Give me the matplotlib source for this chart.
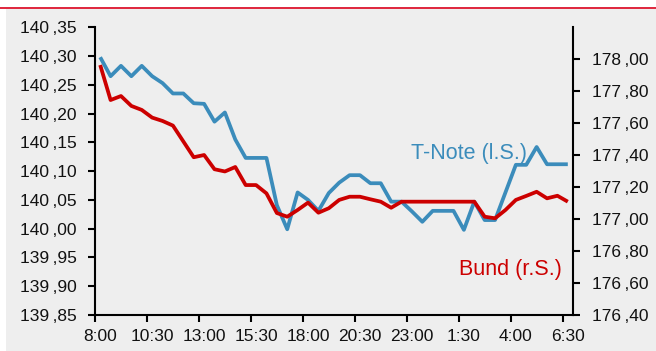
import numpy as np
import matplotlib
matplotlib.use("Agg")
import matplotlib.pyplot as plt
from matplotlib.patches import Rectangle
from matplotlib.lines import Line2D

plt.rcParams['font.family'] = ['Liberation Sans', 'DejaVu Sans']

# Half-hourly quotes, 8:00 to 6:30 next morning
time_labels = ["8:00", "10:30", "13:00", "15:30", "18:00",
               "20:30", "23:00", "1:30", "4:00", "6:30"]

# T-Note future (left scale)
tnote = [140.298, 140.265, 140.283, 140.265, 140.283, 140.265, 140.253, 140.235,
         140.235, 140.218, 140.217, 140.186, 140.202, 140.155, 140.123, 140.123,
         140.123, 140.041, 139.999, 140.063, 140.050, 140.031, 140.062, 140.080,
         140.093, 140.093, 140.079, 140.079, 140.047, 140.047, 140.030, 140.012,
         140.031, 140.031, 140.031, 139.998, 140.047, 140.015, 140.015, 140.063,
         140.111, 140.111, 140.142, 140.112, 140.112, 140.112]

# Bund future (right scale)
bund = [177.964, 177.745, 177.770, 177.708, 177.683, 177.635, 177.614, 177.585,
        177.486, 177.387, 177.401, 177.312, 177.298, 177.326, 177.213, 177.213,
        177.161, 177.038, 177.015, 177.057, 177.103, 177.040, 177.068, 177.120,
        177.140, 177.140, 177.124, 177.109, 177.071, 177.109, 177.109, 177.109,
        177.109, 177.109, 177.109, 177.109, 177.109, 177.015, 177.005, 177.057,
        177.120, 177.145, 177.171, 177.130, 177.146, 177.109]

left_ticks = [139.85, 139.90, 139.95, 140.00, 140.05, 140.10, 140.15,
              140.20, 140.25, 140.30, 140.35]
right_ticks = [176.4, 176.6, 176.8, 177.0, 177.2, 177.4, 177.6, 177.8, 178.0]

BLUE = '#3b8cbb'
RED = '#cc0000'
TXT = '#111111'
W, H = 656, 351

fig = plt.figure(figsize=(W / 100, H / 100), dpi=100)
fig.patch.set_facecolor('white')
fig.patches.append(Rectangle((6 / W, 0), 1, (H - 9) / H, transform=fig.transFigure,
                             facecolor='#eeeeee', edgecolor='none', zorder=-5))
fig.lines.append(Line2D([0, 1], [1 - 8 / H] * 2, transform=fig.transFigure,
                        color='#d9001b', lw=1.2, zorder=-4))

ax = fig.add_axes([95 / W, 36 / H, 478 / W, 287.7 / H])
ax.set_facecolor('none')
ax2 = ax.twinx()
ax2.set_facecolor('none')

x = np.arange(len(tnote))
ax.plot(x, tnote, color=BLUE, lw=2.7, solid_capstyle='butt')
ax2.plot(x, bund, color=RED, lw=2.7, solid_capstyle='butt')

ax.set_xlim(-0.5, len(tnote) - 0.5)
ax.set_ylim(139.85, 140.35)
ax2.set_ylim(176.4, 178.2)

def comma(v):
    return f"{v:.2f}".replace('.', '\u2009,')

ax.set_yticks(left_ticks)
ax.set_yticklabels([comma(v) for v in left_ticks])
ax2.set_yticks(right_ticks)
ax2.set_yticklabels([comma(v) for v in right_ticks])

label_pos = np.arange(0, len(tnote), 5)
ax.set_xticks(label_pos)
ax.set_xticklabels(time_labels)
ax.set_xticks(label_pos - 0.5, minor=True)
ax.tick_params(axis='x', which='major', length=0, pad=10, labelsize=12.5, labelcolor=TXT)
ax.tick_params(axis='x', which='minor', length=5, width=1.5, direction='out')
ax.tick_params(axis='y', length=5, width=1.5, pad=8, labelsize=12.5, labelcolor=TXT)
ax2.tick_params(axis='y', length=5, width=1.5, pad=9, labelsize=12.5, labelcolor=TXT)

for a in (ax, ax2):
    a.spines['top'].set_visible(False)
    for s in a.spines.values():
        s.set_linewidth(1.5)
ax.spines['right'].set_visible(False)
ax2.spines['left'].set_visible(False)
ax2.spines['bottom'].set_visible(False)

fig.text(411 / W, 1 - 153 / H, "T-Note (l.S.)", color=BLUE, fontsize=15.5,
         ha='left', va='center')
fig.text(459 / W, 1 - 270 / H, "Bund (r.S.)", color=RED, fontsize=15.5,
         ha='left', va='center')

fig.savefig("out.png", dpi=100)
